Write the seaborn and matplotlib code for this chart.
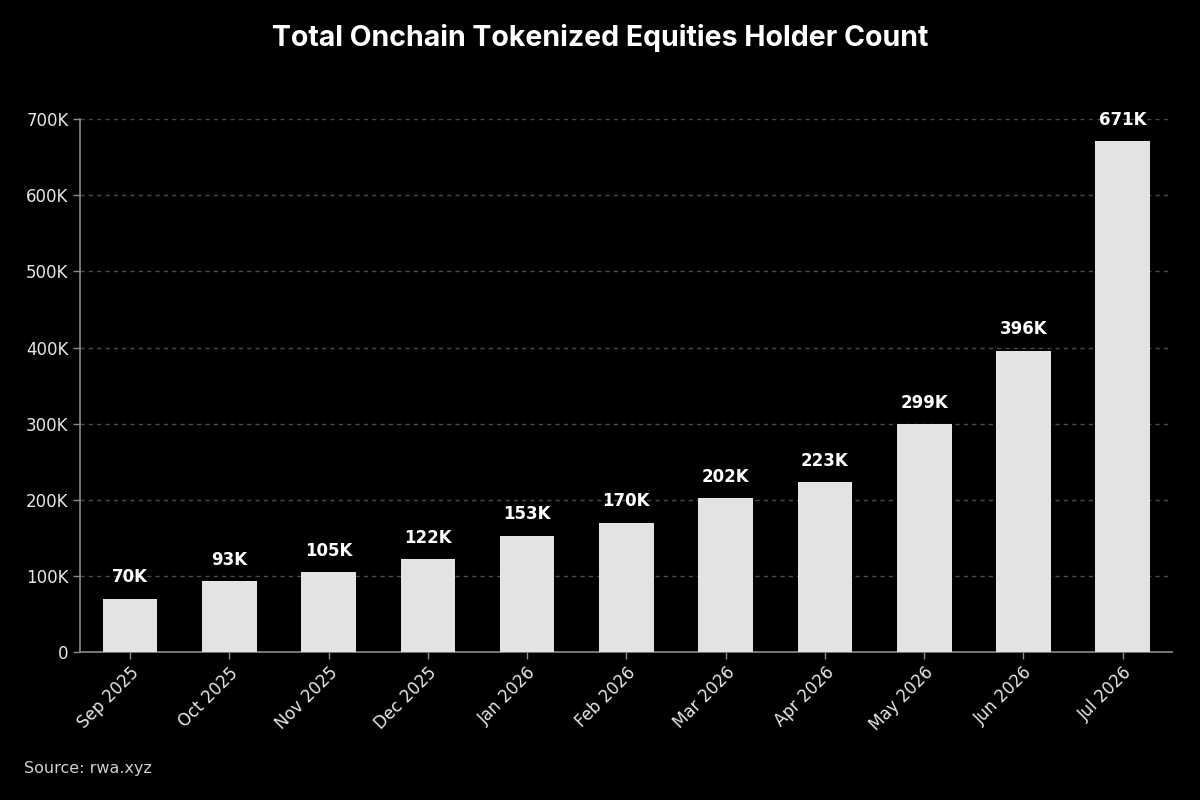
import matplotlib
matplotlib.use("Agg")
import matplotlib.pyplot as plt
import seaborn as sns
import pandas as pd
from matplotlib.ticker import FuncFormatter

months = ["Sep 2025", "Oct 2025", "Nov 2025", "Dec 2025", "Jan 2026", "Feb 2026",
          "Mar 2026", "Apr 2026", "May 2026", "Jun 2026", "Jul 2026"]
holders = [70000, 93000, 105000, 122000, 153000, 170000, 202000, 223000, 299000, 396000, 671000]
value_labels = ["70K", "93K", "105K", "122K", "153K", "170K", "202K", "223K", "299K", "396K", "671K"]

df = pd.DataFrame({"month": months, "holders": holders})

sns.set_theme(style="dark")
plt.rcParams["font.family"] = ["DejaVu Sans"]

fig = plt.figure(figsize=(12, 8), dpi=100, facecolor="black")
ax = fig.add_axes([0.067, 0.185, 0.91, 0.666])
ax.set_facecolor("black")

sns.barplot(data=df, x="month", y="holders", color="#e3e3e3", saturation=1,
            width=0.55, ax=ax, zorder=3, linewidth=0, edgecolor="none")

ax.set_xlim(-0.5, 10.5)
ax.set_ylim(0, 700000)
ax.set_yticks([0, 100000, 200000, 300000, 400000, 500000, 600000, 700000])
ax.yaxis.set_major_formatter(FuncFormatter(lambda v, p: "0" if v == 0 else f"{int(v/1000)}K"))

ax.grid(axis="y", color="#4a4a4a", linestyle=(0, (3, 3)), linewidth=1.0, zorder=0)
ax.grid(axis="x", visible=False)

for side in ["top", "right"]:
    ax.spines[side].set_visible(False)
for side in ["left", "bottom"]:
    ax.spines[side].set_visible(True)
    ax.spines[side].set_color("#8a8a8a")
    ax.spines[side].set_linewidth(1.2)

ax.tick_params(axis="both", colors="#8a8a8a", labelcolor="#e6e6e6", labelsize=12,
               length=5, width=1, bottom=True, left=True)
plt.setp(ax.get_xticklabels(), rotation=45, ha="right", rotation_mode="anchor")
ax.set_xlabel("")
ax.set_ylabel("")

for i, (v, lab) in enumerate(zip(holders, value_labels)):
    ax.annotate(lab, (i, v), xytext=(0, 9), textcoords="offset points",
                ha="center", va="bottom", color="white", fontsize=12,
                fontweight="bold")

fig.text(0.5, 0.953, "Total Onchain Tokenized Equities Holder Count", ha="center",
         va="center", color="white", fontsize=20.5, fontweight="bold",
         family=["Inter", "DejaVu Sans"])
fig.text(0.02, 0.04, "Source: rwa.xyz", ha="left", va="center", color="#d0d0d0",
         fontsize=11.5)

fig.savefig("out.png", dpi=100, facecolor="black")
